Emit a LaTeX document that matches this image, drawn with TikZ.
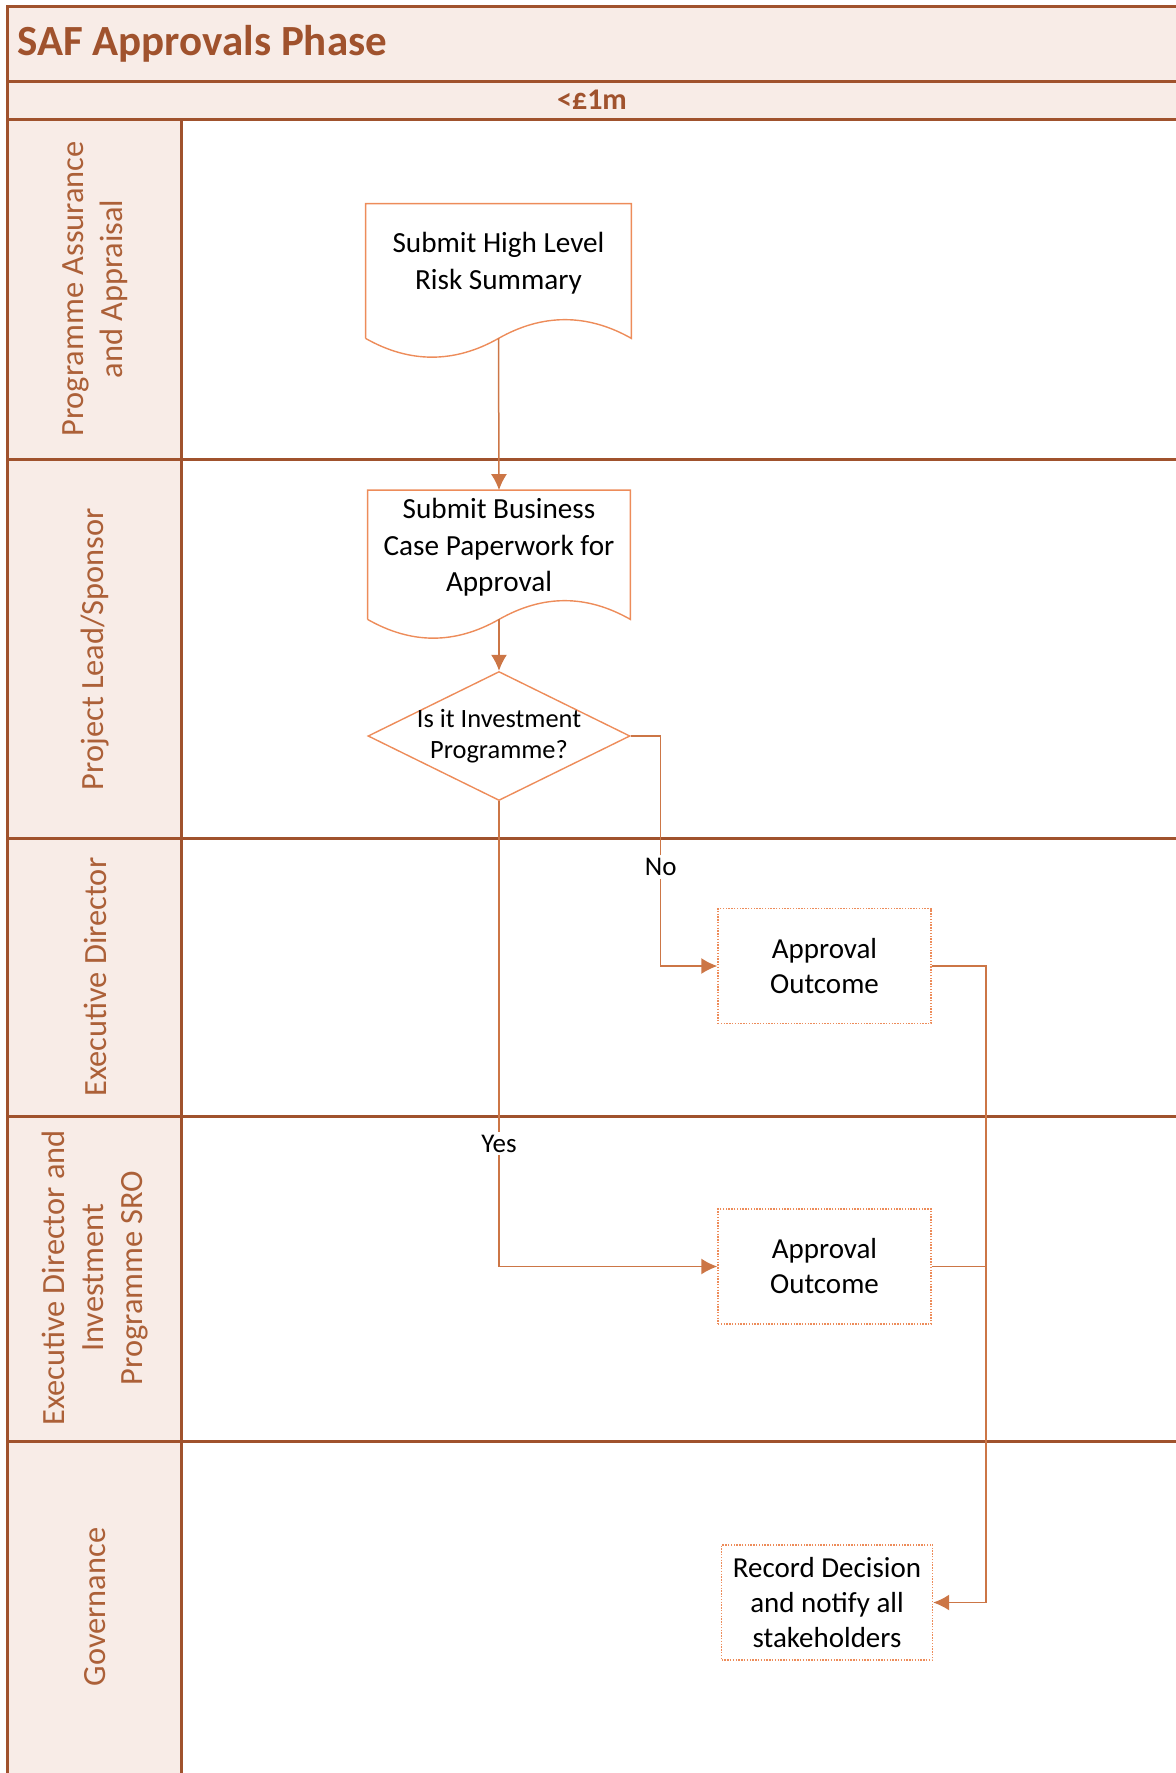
\documentclass[tikz,border=0pt]{standalone}
\usepackage{fontspec}
\setmainfont{Carlito}
\usetikzlibrary{shapes.geometric,arrows.meta}

\definecolor{laneline}{RGB}{160,82,45}
\definecolor{lanefill}{RGB}{248,236,231}
\definecolor{lanetext}{RGB}{172,96,56}
\definecolor{shapeline}{RGB}{237,140,90}
\definecolor{connline}{RGB}{204,118,70}

\tikzset{
  lanehead/.style={rotate=90, align=center, text=lanetext, font=\fontsize{16.2}{19.5}\selectfont},
  docnode/.style={minimum width=132.5pt, align=center, inner sep=0pt, font=\fontsize{14.6}{18.5}\selectfont},
  docline/.style={draw=shapeline, line width=0.7pt},
  outcome/.style={draw=shapeline, line width=0.7pt, dash pattern=on 0.7pt off 0.7pt, minimum width=106.5pt, minimum height=57.5pt, align=center, inner sep=0pt, font=\fontsize{14.5}{17.5}\selectfont},
  decision/.style={diamond, draw=shapeline, line width=0.7pt, aspect=2, inner sep=-3pt, minimum width=131pt, minimum height=64.5pt, align=center, font=\fontsize{13.2}{15.8}\selectfont},
  conn/.style={draw=connline, line width=0.75pt, -{Latex[length=8pt,width=8pt]}},
  connplain/.style={draw=connline, line width=0.75pt},
  choice/.style={fill=white, inner sep=1.5pt, font=\fontsize{13.5}{16}\selectfont}
}

\begin{document}
\begin{tikzpicture}[x=0.5pt, y=-0.5pt]
            \useasboundingbox (0,0) rectangle (1176,1773);
            % swimlane frame
            \fill[lanefill] (7,6) rectangle (1176,119);
            \fill[lanefill] (7,119) rectangle (181,1773);
            \draw[laneline, line width=1.5pt] (1176,6) -- (7,6) -- (7,1773);
            \draw[laneline, line width=1.5pt] (181,119) -- (181,1773);
            \foreach \y in {81,119,459,838,1116,1441}
                \draw[laneline, line width=1.5pt] (7,\y) -- (1176,\y);
            \node[anchor=west, inner sep=0pt, text=laneline, font=\bfseries\fontsize{21.5}{24}\selectfont] (title) at (17,43.5) {SAF Approvals Phase};
            \node[text=laneline, font=\bfseries\fontsize{15}{18}\selectfont] (band) at (592,100) {<£1m};
            \node[lanehead] (lanepa) at (95,289) {Programme Assurance\\and Appraisal};
            \node[lanehead] (lanepl) at (95,649) {Project Lead/Sponsor};
            \node[lanehead] (laneed) at (95,977) {Executive Director};
            \node[lanehead] (lanesro) at (95,1278) {Executive Director and\\Investment\\Programme SRO};
            \node[lanehead] (lanegov) at (95,1607) {Governance};
            % documents
            \node[docnode, minimum height=59pt] (risk) at (498.5,263) {Submit High Level\\Risk Summary};
            \draw[docline] ([yshift=-8pt]risk.south west) -- (risk.north west) -- (risk.north east) -- ([yshift=-8pt]risk.south east)
                .. controls +(-44,-25) and +(44,-25) .. ([yshift=-8pt]risk.south) coordinate (risk-b)
                .. controls +(-44,25) and +(44,25) .. ([yshift=-8pt]risk.south west);
            \node[docnode, minimum width=131pt, minimum height=57pt, font=\fontsize{14.6}{18.25}\selectfont] (bcase) at (499,547.5) {Submit Business\\Case Paperwork for\\Approval};
            \draw[docline] ([yshift=-7.25pt]bcase.south west) -- (bcase.north west) -- (bcase.north east) -- ([yshift=-7.25pt]bcase.south east)
                .. controls +(-44,-25) and +(44,-25) .. ([yshift=-7.25pt]bcase.south) coordinate (bcase-b)
                .. controls +(-44,25) and +(44,25) .. ([yshift=-7.25pt]bcase.south west);
            % decision and outcomes
            \node[decision] (invest) at (499,736) {Is it Investment\\Programme?};
            \node[outcome] (edout) at (824.5,966) {Approval\\Outcome};
            \node[outcome] (sroout) at (824.5,1266.5) {Approval\\Outcome};
            \node[outcome, minimum width=105.5pt] (record) at (827,1602.5) {Record Decision\\and notify all\\stakeholders};
            % connectors
            \draw[conn] (risk-b) -- (bcase.north);
            \draw[conn] (bcase-b) -- (invest.north);
            \draw[conn] (invest.east) -- ++(30,0) |- node[choice, pos=0.285] (no) {No} (edout.west);
            \draw[conn] (invest.south) |- node[choice, pos=0.368] (yes) {Yes} (sroout.west);
            \coordinate (join) at (986,1266.5);
            \draw[conn] (edout.east) -| (join) |- (record.east);
            \draw[connplain] (sroout.east) -- (join);
        \end{tikzpicture}
\end{document}
